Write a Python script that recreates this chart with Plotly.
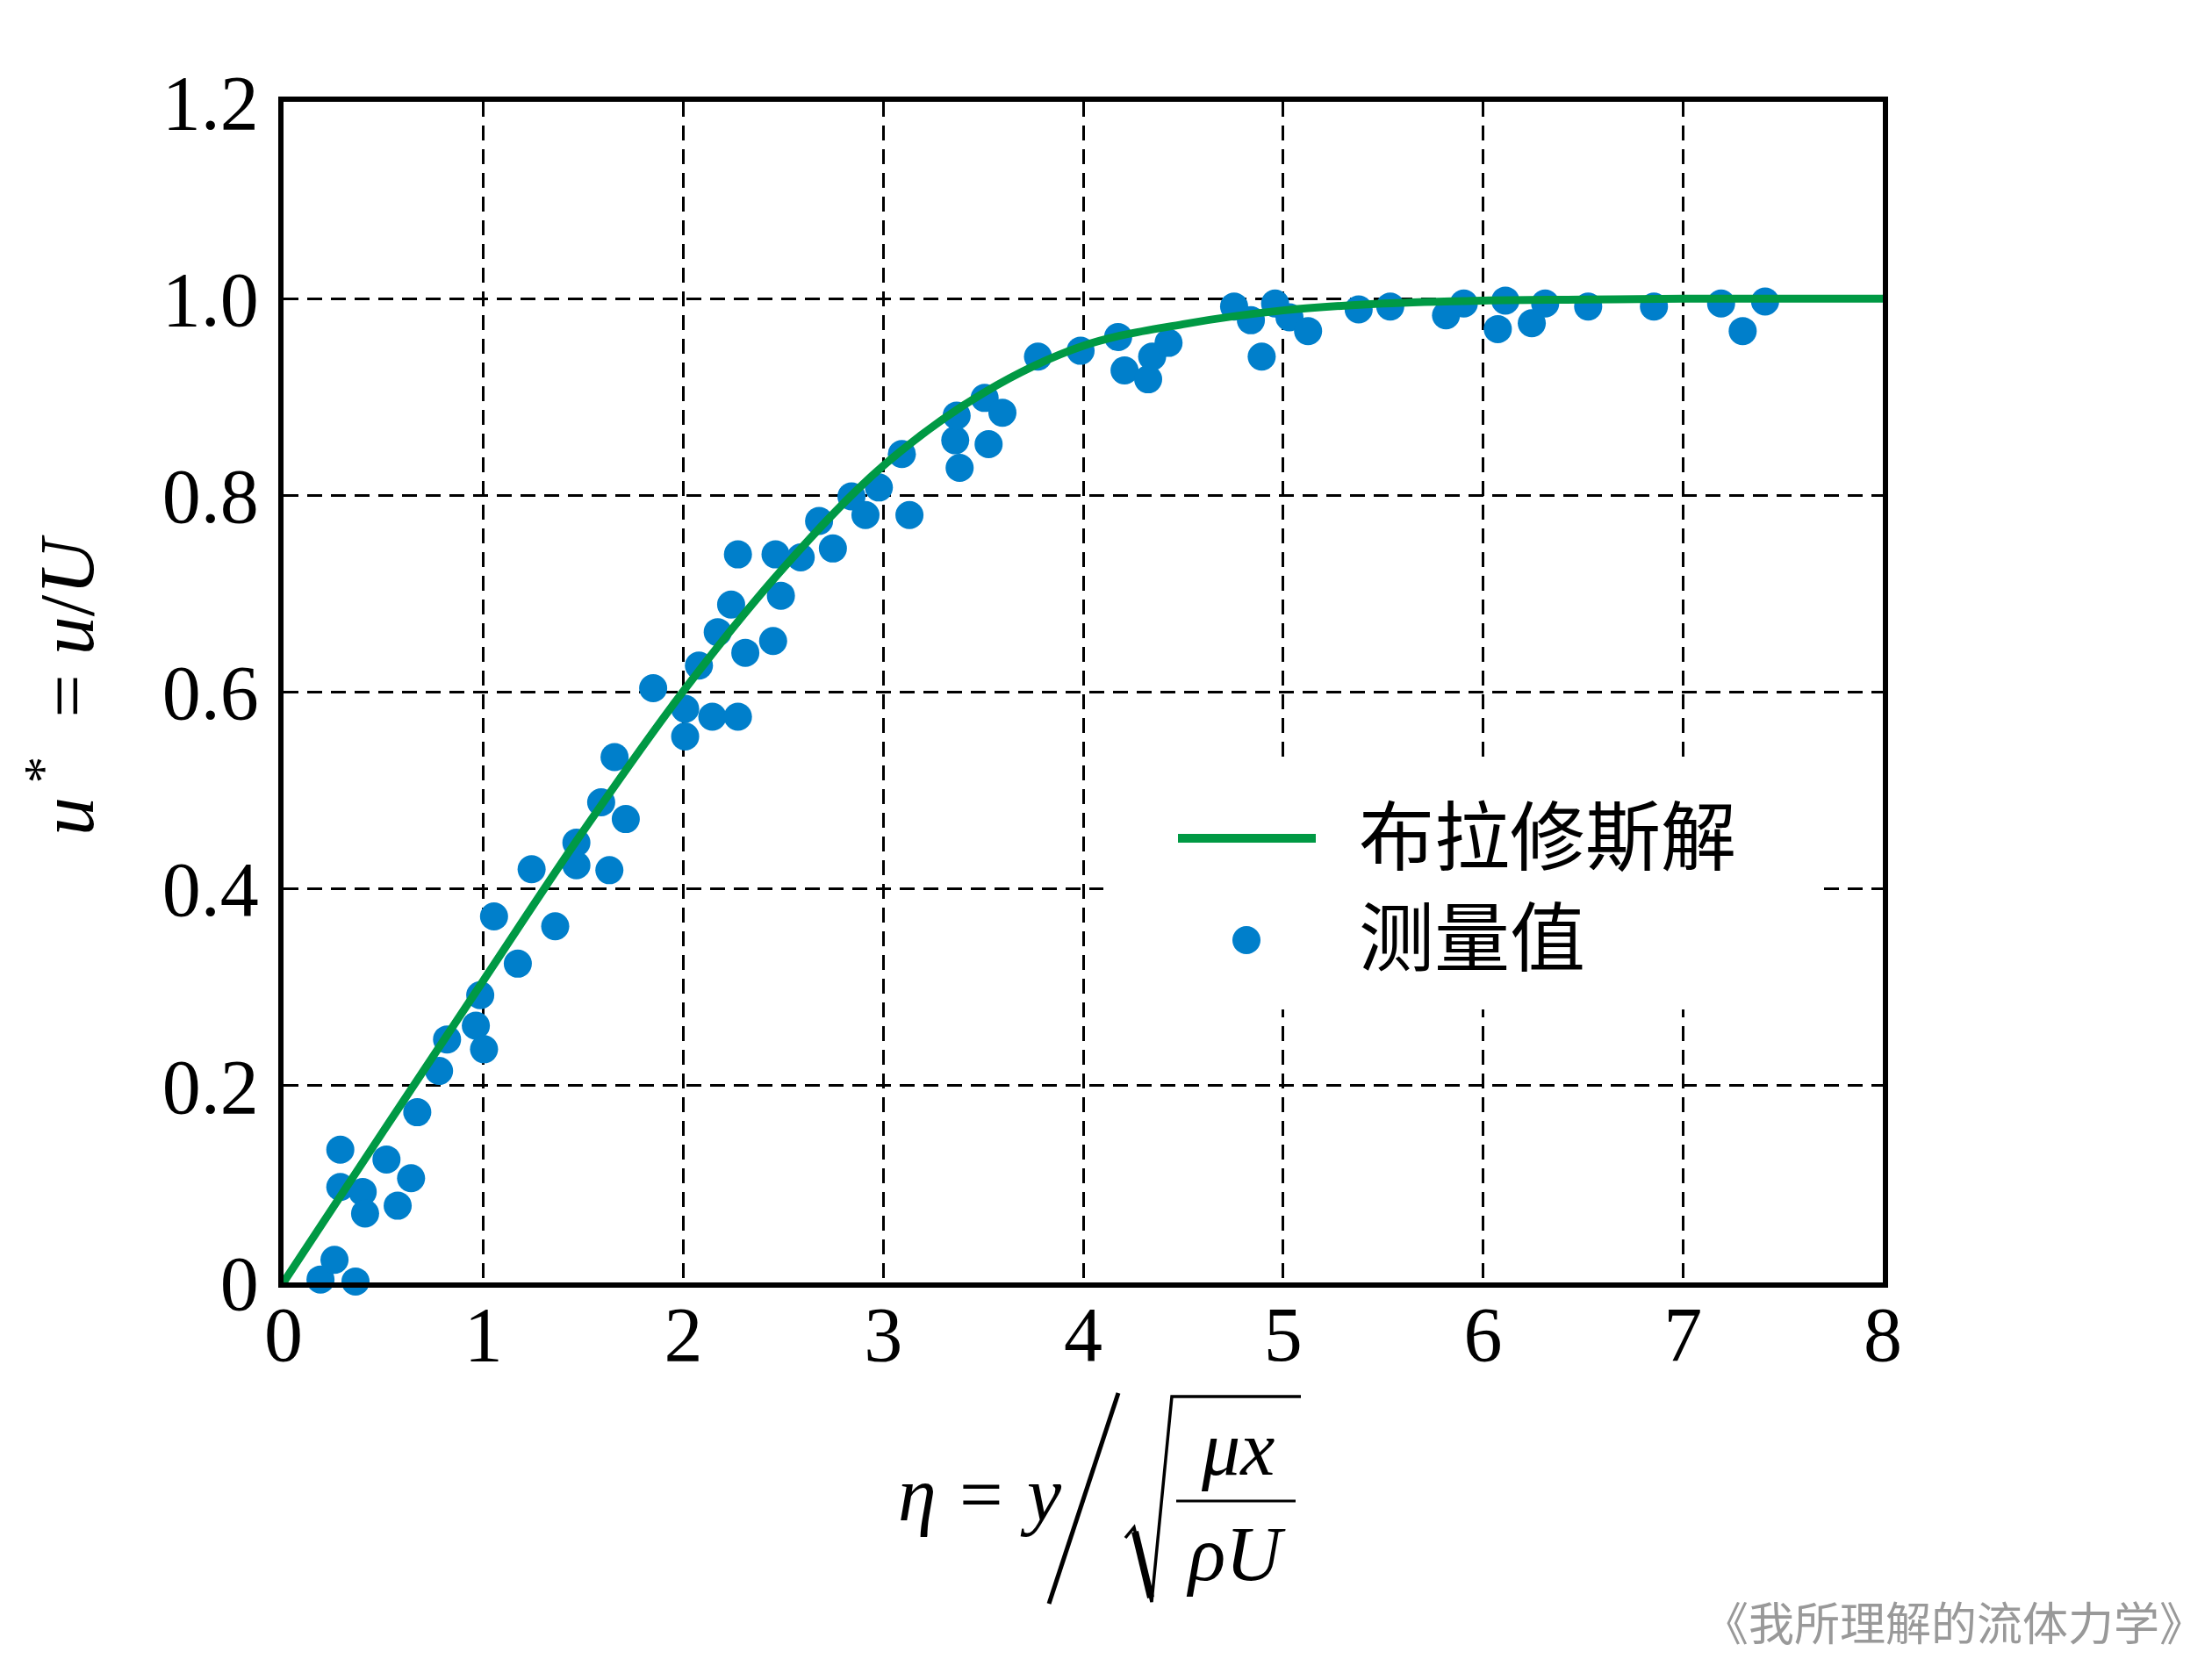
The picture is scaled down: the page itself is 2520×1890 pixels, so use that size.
import plotly.graph_objects as go

# ---------------- data ----------------
blasius_eta = [0, 0.5, 1.0, 1.5, 2.0, 2.5, 3.0, 3.5, 4.0, 4.5, 5.0, 5.5, 6.0, 6.5, 7.0, 8.0]
blasius_u = [0, 0.154, 0.307, 0.459, 0.601, 0.726, 0.830, 0.904, 0.952, 0.974,
             0.988, 0.995, 0.998, 0.999, 1.0, 1.0]

meas_eta = [0.185, 0.255, 0.360, 0.284, 0.284, 0.396, 0.408, 0.515, 0.638, 0.571,
            0.669, 0.778, 0.818, 0.962, 1.003, 0.984, 1.172, 1.053, 1.359, 1.241,
            1.465, 1.465, 1.630, 1.589, 1.712, 1.656, 1.849, 2.009, 2.009, 2.145,
            2.273, 2.078, 2.172, 2.239, 2.310, 2.449, 2.273, 2.461, 2.488, 2.587,
            2.679, 2.748, 2.841, 2.911, 2.978, 3.131, 3.093, 3.360, 3.382, 3.367,
            3.507, 3.596, 3.527, 3.774, 3.987, 4.175, 4.207, 4.325, 4.345, 4.427,
            4.755, 4.839, 4.893, 4.960, 5.032, 5.125, 5.378, 5.536, 5.815, 5.904,
            6.112, 6.074, 6.311, 6.244, 6.526, 6.855, 7.191, 7.299, 7.411]
meas_u = [0.003, 0.023, 0.001, 0.135, 0.097, 0.092, 0.070, 0.125, 0.106, 0.078,
          0.173, 0.215, 0.247, 0.261, 0.237, 0.292, 0.324, 0.372, 0.362, 0.420,
          0.447, 0.424, 0.419, 0.488, 0.471, 0.534, 0.604, 0.583, 0.555, 0.575,
          0.575, 0.627, 0.661, 0.689, 0.640, 0.652, 0.740, 0.740, 0.698, 0.737,
          0.774, 0.746, 0.799, 0.780, 0.808, 0.780, 0.842, 0.856, 0.828, 0.881,
          0.899, 0.884, 0.852, 0.941, 0.947, 0.961, 0.927, 0.918, 0.941, 0.955,
          0.992, 0.978, 0.941, 0.995, 0.981, 0.967, 0.989, 0.992, 0.983, 0.995,
          0.998, 0.969, 0.995, 0.975, 0.992, 0.992, 0.995, 0.967, 0.997]

x_tickvals = [0, 1, 2, 3, 4, 5, 6, 7, 8]
x_ticktext = ["0", "1", "2", "3", "4", "5", "6", "7", "8"]
y_tickvals = [0, 0.2, 0.4, 0.6, 0.8, 1.0, 1.2]
y_ticktext = ["0", "0.2", "0.4", "0.6", "0.8", "1.0", "1.2"]

legend_labels = ["布拉修斯解", "测量值"]
watermark_text = "《我所理解的流体力学》"

# ---------------- styles / geometry ----------------
FIG_W, FIG_H = 2520, 1890
L, R, T, B = 323, 2145, 116, 1461
GREEN = "#009944"
BLUE = "#007FCB"
SERIF = "Liberation Serif, Times New Roman, serif"
CJK = "Noto Sans CJK SC, sans-serif"
FS = 88


def fx(p):
    return (p - L) / (R - L)


def fy(p):
    return (B - p) / (B - T)


fig = go.Figure()
fig.add_trace(go.Scatter(
    x=meas_eta, y=meas_u, mode="markers", name=legend_labels[1],
    marker=dict(size=32, color=BLUE, line=dict(width=0)),
    cliponaxis=False, showlegend=False))
fig.add_trace(go.Scatter(
    x=blasius_eta, y=blasius_u, mode="lines", name=legend_labels[0],
    line=dict(color=GREEN, width=9, shape="spline", smoothing=1.0),
    showlegend=False))

axis_common = dict(
    showline=True, mirror=True, linecolor="black", linewidth=5.5,
    showgrid=True, gridcolor="black", gridwidth=2.5, griddash="17px,10px",
    zeroline=False, ticks="", tickfont=dict(family=SERIF, size=FS, color="black"),
)
fig.update_xaxes(range=[0, 8], tickvals=x_tickvals, ticktext=x_ticktext,
                 ticklabelstandoff=-22, **axis_common)
fig.update_yaxes(range=[0, 1.2], tickvals=y_tickvals, ticktext=y_ticktext,
                 ticklabelstandoff=5, **axis_common)

shapes = []
annotations = []

# ----- legend (manual) -----
shapes.append(dict(type="rect", xref="paper", yref="paper", layer="above",
                   x0=fx(1257), x1=fx(2078), y0=fy(1150), y1=fy(870),
                   fillcolor="white", line=dict(width=0)))
shapes.append(dict(type="line", xref="paper", yref="paper", layer="above",
                   x0=fx(1342), x1=fx(1499), y0=fy(955), y1=fy(955),
                   line=dict(color=GREEN, width=10)))
shapes.append(dict(type="circle", xref="paper", yref="paper", layer="above",
                   xsizemode="pixel", ysizemode="pixel",
                   xanchor=fx(1420), yanchor=fy(1071),
                   x0=-16, x1=16, y0=-16, y1=16,
                   fillcolor=BLUE, line=dict(width=0)))
annotations.append(dict(xref="paper", yref="paper", x=fx(1546), y=fy(947),
                        xanchor="left", yanchor="middle", showarrow=False,
                        text=legend_labels[0],
                        font=dict(family=CJK, size=86, color="black")))
annotations.append(dict(xref="paper", yref="paper", x=fx(1546), y=fy(1062),
                        xanchor="left", yanchor="middle", showarrow=False,
                        text=legend_labels[1],
                        font=dict(family=CJK, size=86, color="black")))

# ----- x-axis title: eta = y / sqrt(mu x / rho U) -----
for txt, cx in (("<i>η</i>", 1045), ("=", 1118), ("<i>y</i>", 1186)):
    annotations.append(dict(xref="paper", yref="paper", x=fx(cx), y=fy(1702),
                            xanchor="center", yanchor="middle", showarrow=False,
                            text=txt,
                            font=dict(family=SERIF, size=FS, color="black")))
# big slash
shapes.append(dict(type="line", xref="paper", yref="paper",
                   x0=fx(1195), y0=fy(1827), x1=fx(1274), y1=fy(1587),
                   line=dict(color="black", width=5)))
# radical sign
shapes.append(dict(type="path", xref="paper", yref="paper",
                   path="M {:.5f},{:.5f} L {:.5f},{:.5f} L {:.5f},{:.5f} L {:.5f},{:.5f} L {:.5f},{:.5f}".format(
                       fx(1282), fy(1752), fx(1292), fy(1740), fx(1312), fy(1825),
                       fx(1335), fy(1591), fx(1482), fy(1591)),
                   line=dict(color="black", width=3.5)))
shapes.append(dict(type="line", xref="paper", yref="paper",
                   x0=fx(1293), y0=fy(1745), x1=fx(1311), y1=fy(1820),
                   line=dict(color="black", width=8)))
# fraction bar
shapes.append(dict(type="line", xref="paper", yref="paper",
                   x0=fx(1340), y0=fy(1710), x1=fx(1476), y1=fy(1710),
                   line=dict(color="black", width=3)))
annotations.append(dict(xref="paper", yref="paper", x=fx(1410), y=fy(1650),
                        xanchor="center", yanchor="middle", showarrow=False,
                        text="<i>μx</i>",
                        font=dict(family=SERIF, size=FS, color="black")))
annotations.append(dict(xref="paper", yref="paper", x=fx(1408), y=fy(1770),
                        xanchor="center", yanchor="middle", showarrow=False,
                        text="<i>ρU</i>",
                        font=dict(family=SERIF, size=FS, color="black")))

# ----- y-axis title -----
annotations.append(dict(xref="paper", yref="paper", x=fx(69), y=fy(781),
                        xanchor="center", yanchor="middle", showarrow=False,
                        textangle=-90,
                        text="<i>u</i><sup> *</sup>  = <i>u</i>/<i>U</i>",
                        font=dict(family=SERIF, size=FS, color="black")))

# ----- watermark -----
annotations.append(dict(xref="paper", yref="paper", x=fx(2514), y=fy(1846),
                        xanchor="right", yanchor="middle", showarrow=False,
                        text=watermark_text,
                        font=dict(family=CJK, size=52, color="#999999")))

fig.update_layout(
    width=FIG_W, height=FIG_H, autosize=False,
    margin=dict(l=L, r=FIG_W - R, t=T, b=FIG_H - B, pad=0),
    paper_bgcolor="white", plot_bgcolor="white",
    showlegend=False, shapes=shapes, annotations=annotations,
)

fig.write_html("out.html")
